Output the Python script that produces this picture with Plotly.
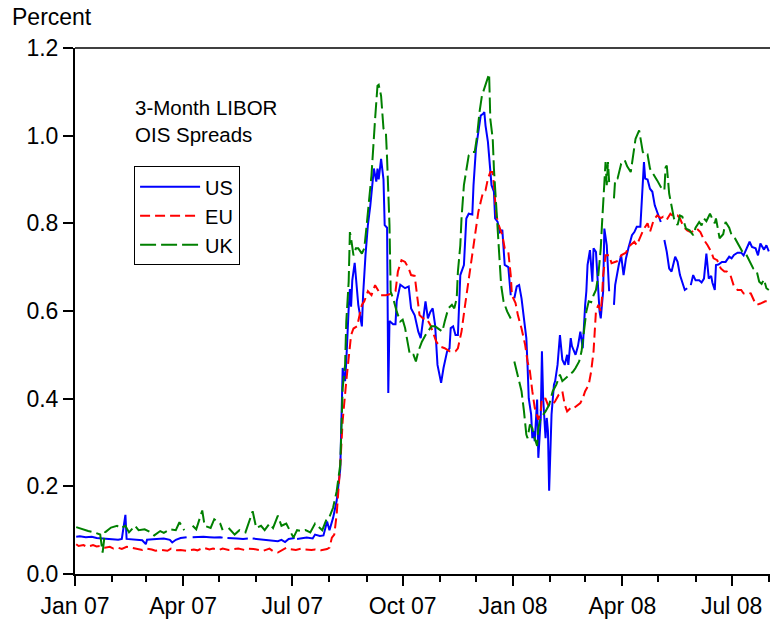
import plotly.graph_objects as go

# 3-month LIBOR minus OIS spreads, percent (date, spread); None marks a missing day
us_spread = [
    ("2007-01-02", 0.085), ("2007-01-05", 0.086), ("2007-01-10", 0.084), ("2007-01-15", 0.085),
    ("2007-01-19", 0.082), ("2007-01-24", 0.081), ("2007-01-29", 0.080), ("2007-02-01", 0.079),
    ("2007-02-06", 0.078), ("2007-02-09", 0.080), ("2007-02-12", 0.135), ("2007-02-13", 0.080),
    ("2007-02-16", 0.079), ("2007-02-21", 0.078), ("2007-02-26", 0.077), ("2007-03-01", 0.068),
    ("2007-03-02", 0.078), ("2007-03-07", 0.079), ("2007-03-12", 0.080), ("2007-03-16", 0.081),
    ("2007-03-21", 0.078), ("2007-03-23", 0.072), ("2007-03-26", 0.078), ("2007-03-30", 0.082),
    ("2007-04-04", 0.084), ("2007-04-06", None), ("2007-04-09", 0.084), ("2007-04-13", 0.085),
    ("2007-04-18", 0.085), ("2007-04-23", 0.084), ("2007-04-27", 0.083), ("2007-05-02", 0.084),
    ("2007-05-04", 0.083), ("2007-05-07", None), ("2007-05-08", 0.082), ("2007-05-11", 0.082),
    ("2007-05-16", 0.081), ("2007-05-21", 0.080), ("2007-05-25", 0.081), ("2007-05-28", None),
    ("2007-05-29", 0.081), ("2007-06-01", 0.080), ("2007-06-06", 0.079), ("2007-06-11", 0.077),
    ("2007-06-14", 0.076), ("2007-06-19", 0.075), ("2007-06-22", 0.078), ("2007-06-25", 0.073),
    ("2007-06-28", 0.080), ("2007-07-03", 0.082), ("2007-07-04", None), ("2007-07-05", 0.080),
    ("2007-07-10", 0.081), ("2007-07-13", 0.083), ("2007-07-18", 0.081), ("2007-07-20", 0.090),
    ("2007-07-24", 0.087), ("2007-07-27", 0.088), ("2007-07-30", 0.120), ("2007-07-31", 0.110),
    ("2007-08-01", 0.100), ("2007-08-04", 0.128), ("2007-08-07", 0.167), ("2007-08-10", 0.240),
    ("2007-08-11", 0.390), ("2007-08-12", 0.470), ("2007-08-14", 0.440), ("2007-08-15", 0.485),
    ("2007-08-17", 0.606), ("2007-08-18", 0.650), ("2007-08-19", 0.610), ("2007-08-20", 0.670),
    ("2007-08-22", 0.710), ("2007-08-23", 0.680), ("2007-08-25", 0.614), ("2007-08-28", 0.565),
    ("2007-08-29", 0.636), ("2007-08-31", 0.727), ("2007-09-02", 0.796), ("2007-09-04", 0.840),
    ("2007-09-06", 0.895), ("2007-09-07", 0.925), ("2007-09-09", 0.895), ("2007-09-10", 0.925),
    ("2007-09-11", 0.900), ("2007-09-13", 0.947), ("2007-09-15", 0.900), ("2007-09-16", 0.796),
    ("2007-09-18", 0.790), ("2007-09-19", 0.413), ("2007-09-20", 0.577), ("2007-09-23", 0.570),
    ("2007-09-25", 0.570), ("2007-09-26", 0.622), ("2007-09-29", 0.660), ("2007-10-01", 0.655),
    ("2007-10-03", 0.652), ("2007-10-06", 0.656), ("2007-10-08", 0.606), ("2007-10-11", 0.590),
    ("2007-10-14", 0.553), ("2007-10-16", 0.538), ("2007-10-18", 0.576), ("2007-10-20", 0.622),
    ("2007-10-22", 0.583), ("2007-10-24", 0.598), ("2007-10-26", 0.606), ("2007-10-28", 0.568),
    ("2007-10-30", 0.477), ("2007-11-02", 0.436), ("2007-11-04", 0.470), ("2007-11-07", 0.508),
    ("2007-11-09", 0.515), ("2007-11-10", 0.561), ("2007-11-12", 0.565), ("2007-11-14", 0.545),
    ("2007-11-16", 0.545), ("2007-11-18", 0.682), ("2007-11-21", 0.705), ("2007-11-23", 0.811),
    ("2007-11-25", 0.822), ("2007-11-28", 0.820), ("2007-11-29", 0.887), ("2007-12-01", 0.970),
    ("2007-12-03", 1.008), ("2007-12-05", 1.046), ("2007-12-07", 1.050), ("2007-12-08", 1.054),
    ("2007-12-09", 1.023), ("2007-12-11", 0.986), ("2007-12-14", 0.887), ("2007-12-16", 0.872),
    ("2007-12-17", 0.811), ("2007-12-19", 0.804), ("2007-12-21", 0.780), ("2007-12-23", 0.785),
    ("2007-12-25", 0.705), ("2007-12-28", 0.700), ("2007-12-30", 0.636), ("2008-01-01", None),
    ("2008-01-02", 0.629), ("2008-01-04", 0.656), ("2008-01-06", 0.659), ("2008-01-08", 0.629),
    ("2008-01-10", 0.583), ("2008-01-12", 0.538), ("2008-01-13", 0.477), ("2008-01-14", 0.401),
    ("2008-01-16", 0.364), ("2008-01-17", 0.310), ("2008-01-18", 0.326), ("2008-01-19", 0.303),
    ("2008-01-21", 0.398), ("2008-01-22", 0.265), ("2008-01-24", 0.356), ("2008-01-25", 0.508),
    ("2008-01-26", 0.401), ("2008-01-28", 0.310), ("2008-01-29", 0.356), ("2008-01-30", 0.326),
    ("2008-01-31", 0.190), ("2008-02-02", 0.364), ("2008-02-04", 0.432), ("2008-02-05", 0.440),
    ("2008-02-07", 0.477), ("2008-02-08", 0.508), ("2008-02-09", 0.545), ("2008-02-11", 0.489),
    ("2008-02-13", 0.477), ("2008-02-15", 0.500), ("2008-02-16", 0.477), ("2008-02-18", 0.538),
    ("2008-02-19", 0.520), ("2008-02-22", 0.500), ("2008-02-24", 0.520), ("2008-02-26", 0.553),
    ("2008-02-28", 0.515), ("2008-03-01", 0.614), ("2008-03-02", 0.645), ("2008-03-03", 0.705),
    ("2008-03-05", 0.739), ("2008-03-07", 0.667), ("2008-03-08", 0.743), ("2008-03-10", 0.735),
    ("2008-03-12", 0.629), ("2008-03-13", 0.599), ("2008-03-14", 0.583), ("2008-03-16", 0.645),
    ("2008-03-17", 0.788), ("2008-03-19", 0.750), ("2008-03-21", 0.645), ("2008-03-22", None),
    ("2008-03-25", 0.614), ("2008-03-26", 0.659), ("2008-03-29", 0.705), ("2008-03-31", 0.727),
    ("2008-04-02", 0.682), ("2008-04-04", 0.720), ("2008-04-06", 0.743), ("2008-04-09", 0.773),
    ("2008-04-11", 0.780), ("2008-04-13", 0.792), ("2008-04-16", 0.792), ("2008-04-17", 0.834),
    ("2008-04-19", 0.940), ("2008-04-20", 0.902), ("2008-04-22", 0.900), ("2008-04-24", 0.879),
    ("2008-04-26", 0.872), ("2008-04-28", 0.841), ("2008-04-30", 0.826), ("2008-05-03", 0.803),
    ("2008-05-04", None), ("2008-05-06", 0.762), ("2008-05-08", 0.735), ("2008-05-10", 0.697),
    ("2008-05-12", 0.690), ("2008-05-15", 0.724), ("2008-05-17", 0.712), ("2008-05-19", 0.682),
    ("2008-05-21", 0.663), ("2008-05-23", 0.648), ("2008-05-25", 0.652), ("2008-05-26", None),
    ("2008-05-28", 0.659), ("2008-05-30", 0.682), ("2008-06-01", 0.670), ("2008-06-04", 0.670),
    ("2008-06-06", 0.665), ("2008-06-08", 0.674), ("2008-06-10", 0.731), ("2008-06-12", 0.674),
    ("2008-06-14", 0.680), ("2008-06-15", 0.665), ("2008-06-17", 0.648), ("2008-06-18", 0.705),
    ("2008-06-20", 0.706), ("2008-06-23", 0.712), ("2008-06-26", 0.712), ("2008-06-29", 0.724),
    ("2008-07-01", 0.720), ("2008-07-03", 0.728), ("2008-07-06", 0.733), ("2008-07-09", 0.733),
    ("2008-07-11", 0.727), ("2008-07-14", 0.746), ("2008-07-16", 0.758), ("2008-07-18", 0.746),
    ("2008-07-21", 0.743), ("2008-07-23", 0.727), ("2008-07-25", 0.754), ("2008-07-28", 0.740),
    ("2008-07-30", 0.750), ("2008-08-01", 0.736),
]

eu_spread = [
    ("2007-01-02", 0.068), ("2007-01-04", 0.064), ("2007-01-08", 0.066), ("2007-01-11", 0.062),
    ("2007-01-16", 0.066), ("2007-01-19", 0.063), ("2007-01-23", 0.064), ("2007-01-26", 0.060),
    ("2007-01-30", 0.062), ("2007-02-02", 0.058), ("2007-02-06", 0.060), ("2007-02-09", 0.057),
    ("2007-02-13", 0.062), ("2007-02-16", 0.060), ("2007-02-21", 0.058), ("2007-02-26", 0.055),
    ("2007-03-01", 0.058), ("2007-03-06", 0.056), ("2007-03-09", 0.053), ("2007-03-14", 0.055),
    ("2007-03-19", 0.053), ("2007-03-22", 0.058), ("2007-03-27", 0.054), ("2007-03-30", 0.055),
    ("2007-04-04", 0.053), ("2007-04-10", 0.056), ("2007-04-13", 0.054), ("2007-04-18", 0.060),
    ("2007-04-23", 0.056), ("2007-04-26", 0.058), ("2007-05-01", 0.055), ("2007-05-04", 0.058),
    ("2007-05-09", 0.055), ("2007-05-14", 0.057), ("2007-05-17", 0.058), ("2007-05-22", 0.055),
    ("2007-05-25", 0.058), ("2007-05-30", 0.057), ("2007-06-04", 0.054), ("2007-06-07", 0.053),
    ("2007-06-12", 0.058), ("2007-06-15", 0.052), ("2007-06-19", 0.049), ("2007-06-22", 0.053),
    ("2007-06-26", 0.060), ("2007-06-29", 0.057), ("2007-07-04", 0.055), ("2007-07-09", 0.058),
    ("2007-07-12", 0.056), ("2007-07-17", 0.055), ("2007-07-20", 0.056), ("2007-07-25", 0.054),
    ("2007-07-30", 0.057), ("2007-08-01", 0.060), ("2007-08-03", 0.083), ("2007-08-05", 0.090),
    ("2007-08-07", 0.136), ("2007-08-10", 0.250), ("2007-08-12", 0.350), ("2007-08-15", 0.440),
    ("2007-08-17", 0.500), ("2007-08-19", 0.545), ("2007-08-21", 0.560), ("2007-08-24", 0.565),
    ("2007-08-26", 0.590), ("2007-08-28", 0.614), ("2007-08-30", 0.622), ("2007-09-02", 0.645),
    ("2007-09-05", 0.636), ("2007-09-08", 0.659), ("2007-09-11", 0.645), ("2007-09-13", 0.636),
    ("2007-09-17", 0.636), ("2007-09-20", 0.638), ("2007-09-25", 0.645), ("2007-09-27", 0.690),
    ("2007-09-30", 0.716), ("2007-10-03", 0.712), ("2007-10-06", 0.697), ("2007-10-08", 0.682),
    ("2007-10-11", 0.680), ("2007-10-13", 0.629), ("2007-10-15", 0.591), ("2007-10-18", 0.583),
    ("2007-10-21", 0.583), ("2007-10-24", 0.568), ("2007-10-26", 0.553), ("2007-10-29", 0.530),
    ("2007-11-01", 0.519), ("2007-11-05", 0.515), ("2007-11-09", 0.508), ("2007-11-14", 0.508),
    ("2007-11-16", 0.515), ("2007-11-19", 0.553), ("2007-11-22", 0.614), ("2007-11-25", 0.674),
    ("2007-11-28", 0.727), ("2007-11-30", 0.773), ("2007-12-03", 0.826), ("2007-12-05", 0.849),
    ("2007-12-07", 0.872), ("2007-12-09", 0.875), ("2007-12-11", 0.902), ("2007-12-13", 0.917),
    ("2007-12-15", 0.917), ("2007-12-16", 0.887), ("2007-12-18", 0.818), ("2007-12-20", 0.796),
    ("2007-12-23", 0.773), ("2007-12-25", 0.743), ("2007-12-28", 0.735), ("2007-12-30", 0.682),
    ("2007-12-31", 0.636), ("2008-01-03", 0.618), ("2008-01-05", 0.590), ("2008-01-08", 0.560),
    ("2008-01-10", 0.538), ("2008-01-11", 0.523), ("2008-01-13", 0.485), ("2008-01-15", 0.462),
    ("2008-01-17", 0.417), ("2008-01-19", 0.379), ("2008-01-22", 0.352), ("2008-01-24", 0.371),
    ("2008-01-25", 0.401), ("2008-01-28", 0.400), ("2008-01-30", 0.386), ("2008-02-02", 0.384),
    ("2008-02-05", 0.394), ("2008-02-08", 0.409), ("2008-02-11", 0.417), ("2008-02-13", 0.386),
    ("2008-02-15", 0.371), ("2008-02-18", 0.379), ("2008-02-20", 0.377), ("2008-02-23", 0.383),
    ("2008-02-26", 0.390), ("2008-02-28", 0.401), ("2008-03-01", 0.417), ("2008-03-04", 0.432),
    ("2008-03-06", 0.462), ("2008-03-08", 0.508), ("2008-03-09", 0.553), ("2008-03-10", 0.599),
    ("2008-03-12", 0.614), ("2008-03-14", 0.599), ("2008-03-15", 0.629), ("2008-03-16", 0.682),
    ("2008-03-18", 0.727), ("2008-03-21", 0.727), ("2008-03-23", 0.709), ("2008-03-26", 0.712),
    ("2008-03-29", 0.715), ("2008-03-31", 0.727), ("2008-04-04", 0.733), ("2008-04-06", 0.746),
    ("2008-04-09", 0.752), ("2008-04-11", 0.758), ("2008-04-13", 0.750), ("2008-04-16", 0.769),
    ("2008-04-19", 0.788), ("2008-04-22", 0.800), ("2008-04-24", 0.780), ("2008-04-27", 0.807),
    ("2008-04-30", 0.818), ("2008-05-03", 0.812), ("2008-05-05", 0.815), ("2008-05-08", 0.808),
    ("2008-05-11", 0.822), ("2008-05-14", 0.815), ("2008-05-17", 0.818), ("2008-05-19", 0.811),
    ("2008-05-22", 0.792), ("2008-05-25", 0.784), ("2008-05-28", 0.780), ("2008-05-30", 0.782),
    ("2008-06-02", 0.788), ("2008-06-05", 0.780), ("2008-06-08", 0.762), ("2008-06-11", 0.750),
    ("2008-06-14", 0.735), ("2008-06-16", 0.720), ("2008-06-19", 0.716), ("2008-06-22", 0.697),
    ("2008-06-25", 0.690), ("2008-06-27", 0.690), ("2008-06-30", 0.682), ("2008-07-03", 0.656),
    ("2008-07-06", 0.648), ("2008-07-09", 0.648), ("2008-07-11", 0.640), ("2008-07-14", 0.642),
    ("2008-07-17", 0.640), ("2008-07-20", 0.622), ("2008-07-22", 0.614), ("2008-07-25", 0.617),
    ("2008-07-29", 0.622), ("2008-08-01", 0.622),
]

uk_spread = [
    ("2007-01-02", 0.107), ("2007-01-05", 0.104), ("2007-01-09", 0.100), ("2007-01-12", 0.098),
    ("2007-01-17", 0.095), ("2007-01-22", 0.090), ("2007-01-24", 0.049), ("2007-01-26", 0.095),
    ("2007-01-31", 0.106), ("2007-02-05", 0.110), ("2007-02-08", 0.104), ("2007-02-12", 0.110),
    ("2007-02-15", 0.095), ("2007-02-20", 0.110), ("2007-02-23", 0.100), ("2007-02-28", 0.102),
    ("2007-03-05", 0.095), ("2007-03-08", 0.088), ("2007-03-13", 0.098), ("2007-03-16", 0.094),
    ("2007-03-21", 0.102), ("2007-03-26", 0.100), ("2007-03-29", 0.118), ("2007-04-02", 0.100),
    ("2007-04-06", None), ("2007-04-09", 0.110), ("2007-04-12", 0.102), ("2007-04-17", 0.145),
    ("2007-04-19", 0.110), ("2007-04-24", 0.105), ("2007-04-27", 0.125), ("2007-05-02", 0.115),
    ("2007-05-04", 0.100), ("2007-05-07", None), ("2007-05-09", 0.105), ("2007-05-14", 0.090),
    ("2007-05-18", 0.100), ("2007-05-23", 0.095), ("2007-05-29", 0.143), ("2007-06-01", 0.105),
    ("2007-06-05", 0.110), ("2007-06-08", 0.100), ("2007-06-12", 0.115), ("2007-06-15", 0.105),
    ("2007-06-19", 0.133), ("2007-06-22", 0.110), ("2007-06-26", 0.115), ("2007-07-02", 0.083),
    ("2007-07-05", 0.100), ("2007-07-09", 0.098), ("2007-07-12", 0.100), ("2007-07-16", 0.095),
    ("2007-07-20", 0.115), ("2007-07-26", 0.100), ("2007-07-30", 0.128), ("2007-08-01", 0.130),
    ("2007-08-04", 0.151), ("2007-08-07", 0.189), ("2007-08-10", 0.250), ("2007-08-11", 0.364),
    ("2007-08-12", 0.424), ("2007-08-14", 0.477), ("2007-08-15", 0.576), ("2007-08-17", 0.667),
    ("2007-08-18", 0.780), ("2007-08-19", 0.766), ("2007-08-21", 0.727), ("2007-08-23", 0.743),
    ("2007-08-25", 0.743), ("2007-08-28", 0.731), ("2007-08-30", 0.743), ("2007-09-01", 0.796),
    ("2007-09-03", 0.857), ("2007-09-05", 0.910), ("2007-09-08", 1.038), ("2007-09-10", 1.114),
    ("2007-09-11", 1.116), ("2007-09-13", 1.091), ("2007-09-15", 1.016), ("2007-09-17", 1.008),
    ("2007-09-18", 0.947), ("2007-09-20", 0.796), ("2007-09-21", 0.644), ("2007-09-23", 0.629),
    ("2007-09-26", 0.599), ("2007-09-29", 0.576), ("2007-10-01", 0.580), ("2007-10-03", 0.561),
    ("2007-10-05", 0.530), ("2007-10-07", 0.500), ("2007-10-10", 0.500), ("2007-10-12", 0.485),
    ("2007-10-14", 0.508), ("2007-10-17", 0.530), ("2007-10-20", 0.545), ("2007-10-22", 0.553),
    ("2007-10-25", 0.565), ("2007-10-28", 0.565), ("2007-10-31", 0.560), ("2007-11-03", 0.553),
    ("2007-11-05", 0.576), ("2007-11-08", 0.606), ("2007-11-11", 0.614), ("2007-11-13", 0.606),
    ("2007-11-15", 0.629), ("2007-11-16", 0.690), ("2007-11-18", 0.750), ("2007-11-19", 0.811),
    ("2007-11-21", 0.887), ("2007-11-23", 0.925), ("2007-11-25", 0.955), ("2007-11-28", 0.963),
    ("2007-11-30", 0.963), ("2007-12-02", 1.000), ("2007-12-04", 1.054), ("2007-12-06", 1.091),
    ("2007-12-08", 1.107), ("2007-12-10", 1.122), ("2007-12-12", 1.141), ("2007-12-13", 1.038),
    ("2007-12-15", 0.993), ("2007-12-16", 0.925), ("2007-12-18", 0.834), ("2007-12-19", 0.780),
    ("2007-12-20", 0.727), ("2007-12-22", 0.659), ("2007-12-24", 0.622), ("2007-12-27", 0.599),
    ("2007-12-30", 0.583), ("2008-01-01", None), ("2008-01-02", 0.485), ("2008-01-04", 0.460),
    ("2008-01-06", 0.440), ("2008-01-08", 0.417), ("2008-01-10", 0.372), ("2008-01-12", 0.318),
    ("2008-01-13", 0.310), ("2008-01-15", 0.341), ("2008-01-17", 0.333), ("2008-01-18", 0.318),
    ("2008-01-21", 0.292), ("2008-01-22", 0.333), ("2008-01-24", 0.356), ("2008-01-26", 0.364),
    ("2008-01-28", 0.371), ("2008-01-31", 0.386), ("2008-02-03", 0.417), ("2008-02-06", 0.432),
    ("2008-02-09", 0.455), ("2008-02-11", 0.440), ("2008-02-14", 0.447), ("2008-02-17", 0.455),
    ("2008-02-20", 0.462), ("2008-02-22", 0.470), ("2008-02-25", 0.485), ("2008-02-27", 0.508),
    ("2008-02-29", 0.553), ("2008-03-02", 0.599), ("2008-03-04", 0.622), ("2008-03-06", 0.620),
    ("2008-03-08", 0.636), ("2008-03-10", 0.648), ("2008-03-12", 0.682), ("2008-03-14", 0.743),
    ("2008-03-15", 0.796), ("2008-03-17", 0.879), ("2008-03-18", 0.940), ("2008-03-19", 0.887),
    ("2008-03-20", 0.940), ("2008-03-21", 0.894), ("2008-03-22", None), ("2008-03-25", 0.857),
    ("2008-03-26", 0.900), ("2008-03-28", 0.902), ("2008-03-31", 0.936), ("2008-04-03", 0.944),
    ("2008-04-05", 0.930), ("2008-04-08", 0.917), ("2008-04-10", 0.955), ("2008-04-12", 0.993),
    ("2008-04-15", 1.012), ("2008-04-18", 0.963), ("2008-04-20", 0.955), ("2008-04-22", 0.957),
    ("2008-04-24", 0.925), ("2008-04-27", 0.913), ("2008-04-30", 0.898), ("2008-05-03", 0.883),
    ("2008-05-06", 0.875), ("2008-05-07", 0.928), ("2008-05-08", 0.932), ("2008-05-10", 0.868),
    ("2008-05-12", 0.841), ("2008-05-14", 0.811), ("2008-05-17", 0.796), ("2008-05-19", 0.818),
    ("2008-05-21", 0.815), ("2008-05-24", 0.788), ("2008-05-27", 0.784), ("2008-05-30", 0.773),
    ("2008-06-01", 0.790), ("2008-06-04", 0.803), ("2008-06-06", 0.795), ("2008-06-08", 0.811),
    ("2008-06-10", 0.805), ("2008-06-13", 0.822), ("2008-06-15", 0.810), ("2008-06-17", 0.800),
    ("2008-06-18", 0.811), ("2008-06-21", 0.766), ("2008-06-24", 0.775), ("2008-06-26", 0.803),
    ("2008-06-29", 0.790), ("2008-07-01", 0.773), ("2008-07-04", 0.765), ("2008-07-07", 0.750),
    ("2008-07-10", 0.735), ("2008-07-13", 0.730), ("2008-07-16", 0.712), ("2008-07-19", 0.697),
    ("2008-07-22", 0.690), ("2008-07-24", 0.667), ("2008-07-26", 0.662), ("2008-07-28", 0.672),
    ("2008-07-30", 0.652), ("2008-08-01", 0.648),
]

series = [
    ("US", us_spread, "#0000FF", "solid"),
    ("EU", eu_spread, "#FF0000", "10px,5px"),
    ("UK", uk_spread, "#008000", "16px,5px"),
]

FONT = "Liberation Sans, Arial, sans-serif"

fig = go.Figure()
for name, pairs, color, dash in series:
    fig.add_trace(go.Scatter(
        x=[d for d, _ in pairs],
        y=[v for _, v in pairs],
        name=name,
        mode="lines",
        connectgaps=False,
        line=dict(color=color, width=2, dash=dash),
    ))

fig.update_layout(
    width=770, height=619,
    margin=dict(l=75, r=0, t=48, b=43),
    plot_bgcolor="white", paper_bgcolor="white",
    font=dict(family=FONT, size=23, color="black"),
    showlegend=True,
    legend=dict(
        x=0.085, y=0.775, xanchor="left", yanchor="top",
        bgcolor="white", bordercolor="black", borderwidth=1,
        font=dict(size=20, family=FONT, color="black"),
        itemwidth=60,
    ),
)

fig.update_xaxes(
    type="date",
    range=["2007-01-01", "2008-08-02"],
    tick0="2007-01-01", dtick="M3", tickformat="%b %y",
    ticks="outside", ticklen=10, tickwidth=1.5, tickcolor="black",
    showline=True, linecolor="black", linewidth=2,
    showgrid=False, zeroline=False,
    minor=dict(dtick="M1", tick0="2007-01-01", ticks="outside",
               ticklen=6, tickwidth=1.5, tickcolor="black", showgrid=False),
)
fig.update_yaxes(
    range=[0, 1.2], dtick=0.2, tickformat=".1f",
    ticks="outside", ticklen=10, tickwidth=1.5, tickcolor="black",
    showline=True, linecolor="black", linewidth=2,
    showgrid=False, zeroline=False,
)

# frame line along the top of the plotting area
fig.add_shape(type="line", xref="paper", yref="paper", x0=0, x1=1, y0=1, y1=1,
              line=dict(color="black", width=1.5))

fig.add_annotation(text="Percent", xref="paper", yref="paper",
                   x=-0.094, y=1.059, xanchor="left", yanchor="middle",
                   showarrow=False, font=dict(size=23, family=FONT, color="black"))
fig.add_annotation(text="3-Month LIBOR<br>OIS Spreads", xref="paper", yref="paper",
                   x=0.0835, y=0.861, xanchor="left", yanchor="middle", align="left",
                   showarrow=False, font=dict(size=20.5, family=FONT, color="black"))

fig.write_html("out.html", config={"displayModeBar": False})
